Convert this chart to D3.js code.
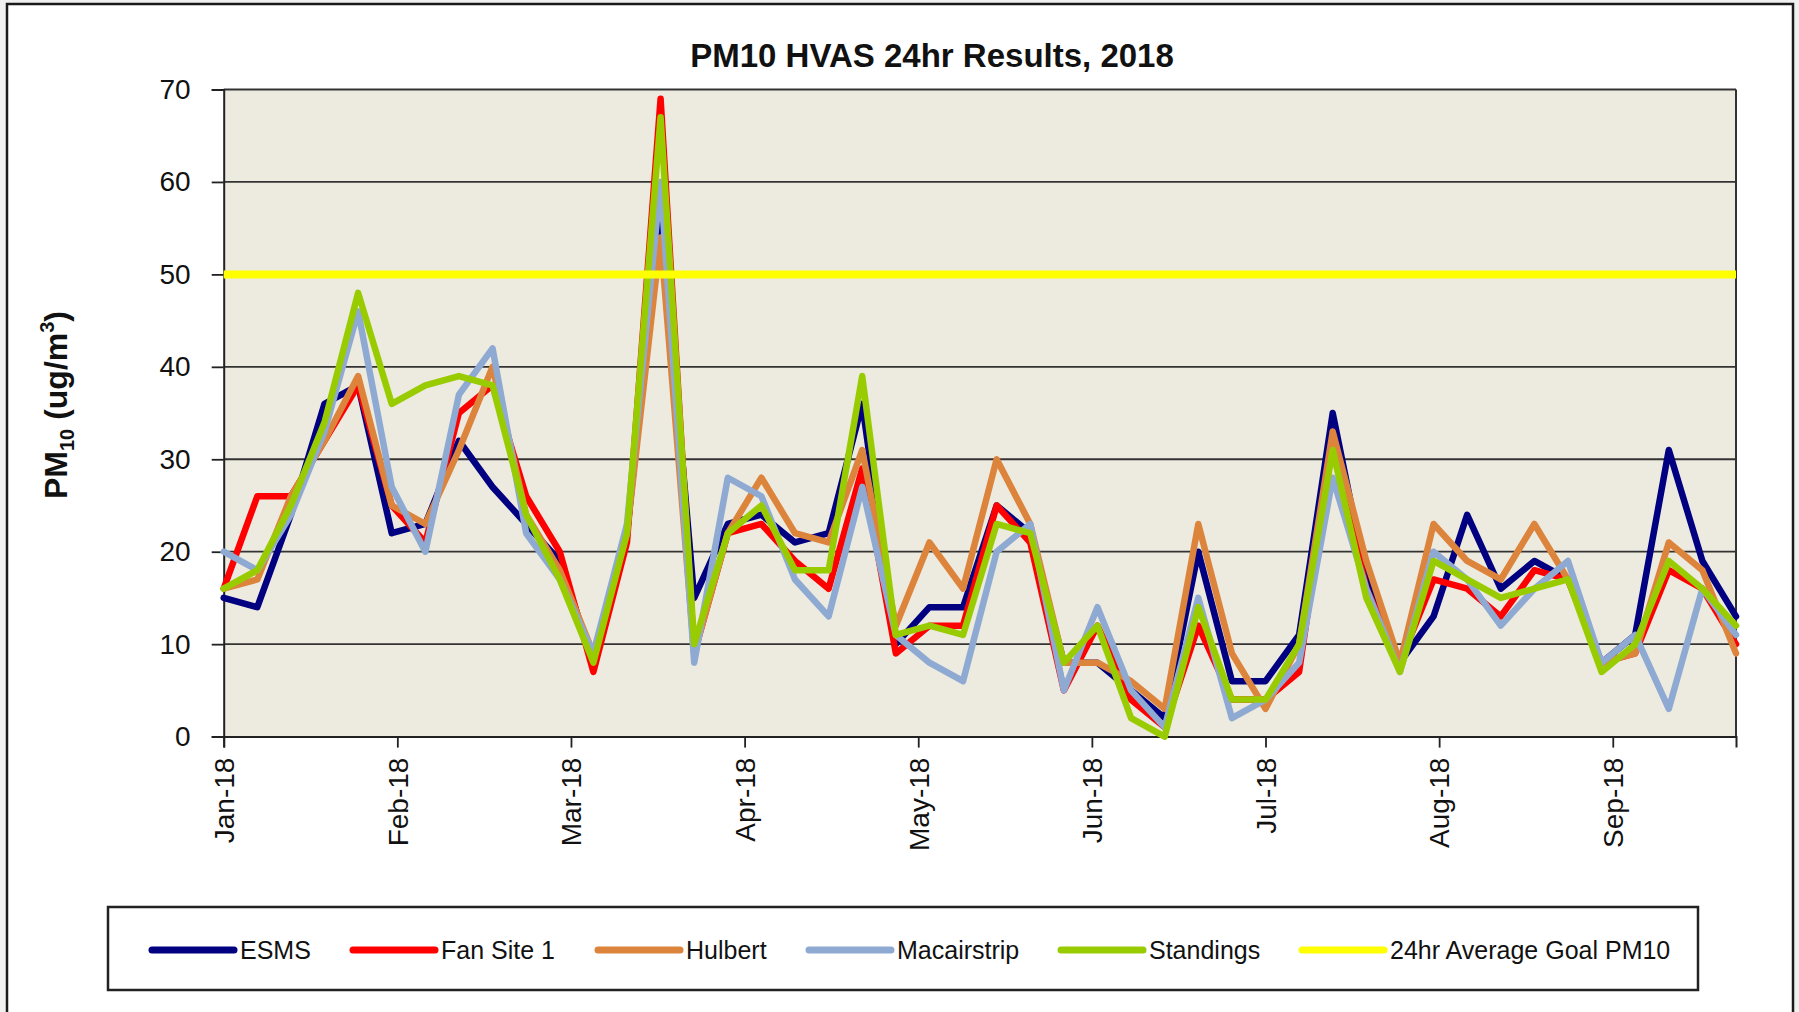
<!DOCTYPE html>
<html>
<head>
<meta charset="utf-8">
<script src="https://cdn.jsdelivr.net/npm/d3@7"></script>
<style>
  html, body { margin: 0; padding: 0; background: #f0f0f0; }
  svg { display: block; font-family: Arial, "Liberation Sans", sans-serif; }
</style>
</head>
<body>
<svg id="chart" width="1799" height="1012"></svg>
<script>
// sample days (1-in-6 day HVAS runs)
const sampleDates = [
  '2018-01-01', '2018-01-07', '2018-01-13', '2018-01-19', '2018-01-25', '2018-01-31',
  '2018-02-06', '2018-02-12', '2018-02-18', '2018-02-24',
  '2018-03-02', '2018-03-08', '2018-03-14', '2018-03-20', '2018-03-26',
  '2018-04-01', '2018-04-07', '2018-04-13', '2018-04-19', '2018-04-25',
  '2018-05-01', '2018-05-07', '2018-05-13', '2018-05-19', '2018-05-25', '2018-05-31',
  '2018-06-06', '2018-06-12', '2018-06-18', '2018-06-24', '2018-06-30',
  '2018-07-06', '2018-07-12', '2018-07-18', '2018-07-24', '2018-07-30',
  '2018-08-05', '2018-08-11', '2018-08-17', '2018-08-23', '2018-08-29',
  '2018-09-04', '2018-09-10', '2018-09-16', '2018-09-22', '2018-09-28'
];

const tickDates = ['2018-01-01', '2018-02-01', '2018-03-04', '2018-04-04', '2018-05-05',
  '2018-06-05', '2018-07-06', '2018-08-06', '2018-09-06'];
const tickLabels = ['Jan-18', 'Feb-18', 'Mar-18', 'Apr-18', 'May-18', 'Jun-18', 'Jul-18', 'Aug-18', 'Sep-18'];
const yTicks = [0, 10, 20, 30, 40, 50, 60, 70];

const esms = [15, 14, 24, 36, 38, 22, 23, 32, 27, 23, 19, 8, 22, 57, 15, 23, 24, 21, 22, 36, 10, 14, 14, 25, 22,
  8, 8, 5, 2, 20, 6, 6, 11, 35, 17, 8, 13, 24, 16, 19, 17, 8, 11, 31, 19, 13];
const fanSite1 = [16, 26, 26, 32, 38, 25, 21, 35, 38, 26, 20, 7, 21, 69, 9, 22, 23, 19, 16, 29, 9, 12, 12, 25, 21,
  5, 12, 4, 1, 12, 4, 4, 7, 32, 16, 8, 17, 16, 13, 18, 17, 8, 9, 18, 16, 10];
const hulbert = [16, 17, 26, 32, 39, 25, 23, 31, 40, 24, 18, 9, 22, 54, 9, 22, 28, 22, 21, 31, 12, 21, 16, 30, 23,
  8, 8, 6, 3, 23, 9, 3, 10, 33, 19, 8, 23, 19, 17, 23, 17, 8, 9, 21, 18, 9];
const macairstrip = [20, 18, 24, 33, 46, 27, 20, 37, 42, 22, 17, 9, 23, 60, 8, 28, 26, 17, 13, 27, 11, 8, 6, 20, 23,
  5, 14, 5, 1, 15, 2, 4, 8, 28, 16, 7, 20, 17, 12, 16, 19, 8, 11, 3, 16, 11];
const standings = [16, 18, 25, 34, 48, 36, 38, 39, 38, 24, 17, 8, 22, 67, 10, 22, 25, 18, 18, 39, 11, 12, 11, 23, 22,
  8, 12, 2, 0, 14, 4, 4, 10, 31, 15, 7, 19, 17, 15, 16, 17, 7, 10, 19, 16, 12];
const goalValue = 50;

const seriesNames = ['ESMS', 'Fan Site 1', 'Hulbert', 'Macairstrip', 'Standings'];
const seriesValues = [esms, fanSite1, hulbert, macairstrip, standings];
const seriesColors = ['#000080', '#ff0000', '#dd843c', '#8eaad2', '#99cc00'];
const goalName = '24hr Average Goal PM10';
const goalColor = '#ffff00';

const parse = d3.timeParse('%Y-%m-%d');
const dates = sampleDates.map(parse);

const svg = d3.select('#chart');

// white chart frame
svg.append('rect')
  .attr('x', 7).attr('y', 4).attr('width', 1786).attr('height', 1100)
  .attr('fill', '#fff').attr('stroke', '#1a1a1a').attr('stroke-width', 2.5);

const plot = { left: 223.7, right: 1736, top: 89.5, bottom: 736.6 };

const x = d3.scaleTime().domain(d3.extent(dates)).range([plot.left, plot.right]);
const y = d3.scaleLinear().domain([0, 70]).range([plot.bottom, plot.top]);

// plot background
svg.append('rect')
  .attr('x', plot.left).attr('y', plot.top)
  .attr('width', plot.right - plot.left).attr('height', plot.bottom - plot.top)
  .attr('fill', '#edeae0');

// horizontal gridlines
svg.append('g')
  .selectAll('line')
  .data(yTicks.filter(d => d > 0))
  .join('line')
  .attr('x1', plot.left).attr('x2', plot.right)
  .attr('y1', d => y(d)).attr('y2', d => y(d))
  .attr('stroke', '#333').attr('stroke-width', 1.8);

// right border of the plot
svg.append('line')
  .attr('x1', plot.right).attr('x2', plot.right)
  .attr('y1', plot.top).attr('y2', plot.bottom)
  .attr('stroke', '#333').attr('stroke-width', 2);

// y axis
const yAxis = svg.append('g')
  .attr('transform', `translate(${plot.left},0)`)
  .call(d3.axisLeft(y).tickValues(yTicks).tickSize(12).tickPadding(21));
yAxis.select('.domain').attr('stroke', '#222').attr('stroke-width', 2);
yAxis.selectAll('.tick line').attr('stroke', '#222').attr('stroke-width', 1.8);
yAxis.selectAll('text')
  .attr('font-size', 28).attr('fill', '#111').attr('font-family', 'Arial, "Liberation Sans", sans-serif');

// x axis
const tickDateObjs = tickDates.map(parse);
const xAxis = svg.append('g')
  .attr('transform', `translate(0,${plot.bottom})`)
  .call(d3.axisBottom(x).tickValues(tickDateObjs).tickSize(11)
    .tickFormat((d, i) => tickLabels[i]));
xAxis.select('.domain').attr('stroke', '#222').attr('stroke-width', 2);
xAxis.selectAll('.tick line').attr('stroke', '#222').attr('stroke-width', 1.8);
xAxis.selectAll('text')
  .attr('font-size', 28).attr('fill', '#111').attr('font-family', 'Arial, "Liberation Sans", sans-serif')
  .attr('text-anchor', 'end')
  .attr('transform', 'rotate(-90)')
  .attr('x', -21).attr('y', 0).attr('dy', '0.35em');

// data lines
const line = d3.line()
  .x((d, i) => x(dates[i]))
  .y(d => y(d));

svg.append('g')
  .selectAll('path')
  .data(seriesValues)
  .join('path')
  .attr('d', d => line(d))
  .attr('fill', 'none')
  .attr('stroke', (d, i) => seriesColors[i])
  .attr('stroke-width', 6.5)
  .attr('stroke-linejoin', 'round')
  .attr('stroke-linecap', 'round');

// goal line
svg.append('line')
  .attr('x1', x(dates[0])).attr('x2', x(dates[dates.length - 1]))
  .attr('y1', y(goalValue)).attr('y2', y(goalValue))
  .attr('stroke', goalColor).attr('stroke-width', 8);

// title
svg.append('text')
  .attr('x', 932).attr('y', 67)
  .attr('text-anchor', 'middle')
  .attr('font-size', 33).attr('font-weight', 'bold').attr('fill', '#111')
  .text('PM10 HVAS 24hr Results, 2018');

// y axis title with sub/superscript
const yTitle = svg.append('text')
  .attr('transform', 'translate(67,405) rotate(-90)')
  .attr('text-anchor', 'middle')
  .attr('font-size', 32).attr('font-weight', 'bold').attr('fill', '#111');
yTitle.append('tspan').text('PM');
yTitle.append('tspan').attr('font-size', 20).attr('dy', 7).text('10');
yTitle.append('tspan').attr('dy', -7).text(' (ug/m');
yTitle.append('tspan').attr('font-size', 20).attr('dy', -13).text('3');
yTitle.append('tspan').attr('dy', 13).text(')');

// legend
svg.append('rect')
  .attr('x', 108).attr('y', 907).attr('width', 1590).attr('height', 83)
  .attr('fill', '#fff').attr('stroke', '#222').attr('stroke-width', 2.5);

const legendItems = seriesNames.map((n, i) => ({ name: n, color: seriesColors[i] }))
  .concat([{ name: goalName, color: goalColor }]);
const legendX = [152, 353, 598, 809, 1061, 1302];

const leg = svg.append('g')
  .selectAll('g')
  .data(legendItems)
  .join('g')
  .attr('transform', (d, i) => `translate(${legendX[i]},950)`);

leg.append('line')
  .attr('x1', 0).attr('x2', 82)
  .attr('stroke', d => d.color).attr('stroke-width', 7)
  .attr('stroke-linecap', 'round');

leg.append('text')
  .attr('x', 88).attr('dy', '0.36em')
  .attr('font-size', 25).attr('fill', '#111')
  .text(d => d.name);
</script>
</body>
</html>
